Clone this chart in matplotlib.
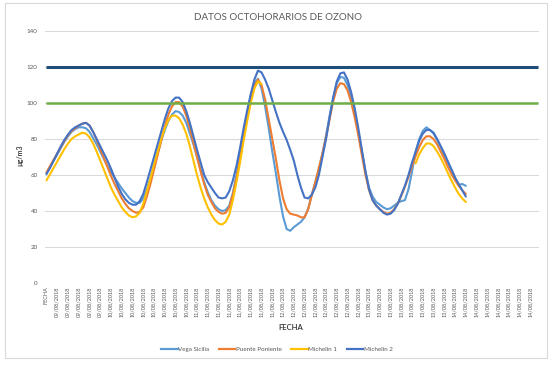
import numpy as np
import matplotlib
matplotlib.use("Agg")
import matplotlib.pyplot as plt
from matplotlib.patches import Rectangle
from matplotlib.lines import Line2D

plt.rcParams['font.family'] = ['Lato', 'DejaVu Sans']

title = "DATOS OCTOHORARIOS DE OZONO"
x_title = "FECHA"
y_title = "µg/m3"
series_names = ["Vega Sicilia", "Puente Poniente", "Michelin 1", "Michelin 2"]
series_colors = ["#5B9BD5", "#ED7D31", "#FFC000", "#4472C4"]

# category axis: one category per hour, a label every 3 categories
n_categories = 138
label_step = 3
tick_labels = (["FECHA"] + ["09/08/2018"] * 5 + ["10/08/2018"] * 8 + ["11/08/2018"] * 8
               + ["12/08/2018"] * 8 + ["13/08/2018"] * 8 + ["14/08/2018"] * 8)

nan = np.nan
vega_sicilia = [
    61, 64.5, 68, 71.5, 75, 78.5, 81.5, 84, 85.5, 86.5, 86.5, 86,
    84, 80.5, 77, 73, 69, 65, 61.5, 58.5, 55.5, 52.5, 50, 47.5,
    45.5, 44.5, 44.5, 47, 52, 58, 65, 72, 79, 85, 90, 93.5,
    95.5, 95, 93, 89, 83, 77, 70, 63, 56, 50.5, 46, 43,
    41, 40, 40.5, 43, 50, 60, 71, 83, 94, 104, 111, 113.5,
    108, 98, 86, 73, 61, 48, 37, 30, 29, 31, 32.5, 34,
    36.5, 41, 49, 56, 63, 72, 82, 93, 103, 111, 114.5, 114,
    110, 103, 95, 84, 73, 62, 53, 48, 45, 43.5, 42, 41,
    41.5, 43, 44.5, 45.5, 46, 52, 62, 73, 80, 84.5, 86.5, 85,
    83, 79.5, 75.5, 71, 67, 63, 58.5, 54.5, 55, 54,
]
puente_poniente = [
    61.5, 65, 68.5, 72, 75.5, 79, 82, 84.5, 86, 87.5, 88.5, 89,
    87.5, 84, 79.5, 74.5, 69.5, 64.5, 59.5, 55, 51, 47, 44, 41.5,
    40, 39, 39.5, 42, 48, 55, 63, 71, 79, 87, 93.5, 98,
    100.5, 100.5, 98, 93, 86, 78, 70, 62, 55, 49, 45, 41.5,
    39.5, 38.5, 39, 42, 49, 58, 69, 81, 92, 102, 109.5, 113,
    110, 102, 91, 80, 69, 57, 47, 41, 38.5, 38, 37.5, 36.5,
    36.5, 41, 48.5, 56, 64, 72, 81, 91, 101, 108, 111, 110.5,
    107, 100.5, 92, 82, 71, 60, 51.5, 46, 43, 41, 39.5, 38.5,
    39, 41, 44, 48.5, 53.5, 59, 65, 70.5, 75.5, 79.5, 81.5, 81.5,
    80, 77, 73, 69, 64.5, 60.5, 57, 54, 51.5, 49.5,
]
michelin_1 = [
    57, 60.5, 64, 67.5, 71, 74.5, 77.5, 80, 81.5, 82.5, 83.5, 83,
    81, 77.5, 73, 68, 63, 58, 53, 49, 45.5, 42, 39.5, 37.5,
    36.5, 37, 39, 44, 51, 58, 66, 73, 80, 86, 90.5, 93,
    93, 91.5, 88, 83, 76, 68, 60, 53, 47, 42, 38, 35,
    33, 32.5, 34, 38, 46, 56, 67, 79, 90, 100, 108, 112,
    110.5, nan, nan, nan, nan, nan, nan, nan, nan, nan, nan, nan,
    nan, nan, nan, nan, nan, nan, nan, nan, nan, nan, nan, nan,
    nan, nan, nan, nan, nan, nan, nan, nan, nan, nan, nan, nan,
    nan, nan, nan, nan, nan, nan, nan, 66.5, 71.5, 75, 77.5, 77.5,
    76, 73, 69.5, 65.5, 61, 57, 53, 49.5, 47, 45,
]
michelin_2 = [
    60.5, 64, 68, 72, 76, 79.5, 82.5, 85, 86.5, 87.5, 88.5, 89,
    87.5, 84, 80, 76, 72, 68, 63.5, 58.5, 53.5, 49.5, 46.5, 44.5,
    43.5, 43.5, 45.5, 49.5, 56, 63, 70, 77, 84, 91, 97, 101,
    103, 103, 100.5, 95.5, 89, 81.5, 74, 67, 60, 56, 53, 50,
    47.5, 47, 47.5, 51, 57, 65, 75, 86, 96, 105, 113, 118,
    117, 113, 108, 101.5, 95, 89, 84, 79.5, 74, 68, 60, 53,
    47.5, 47, 49, 53, 60, 70, 80, 92, 103, 112, 116.5, 117,
    113, 106, 97, 86, 74, 62, 52, 46, 43, 41, 39, 38,
    38.5, 40.5, 44, 49, 54, 60, 67, 73, 79, 83, 85, 85,
    83.5, 80, 76, 72, 67.5, 63, 58.5, 55, 51.5, 48,
]
series_values = [vega_sicilia, puente_poniente, michelin_1, michelin_2]

limit_values = [120, 100]
limit_colors = ["#1F4E79", "#70AD47"]
limit_widths = [2.2, 1.8]

y_ticks = [0, 20, 40, 60, 80, 100, 120, 140]

# ---------------------------------------------------------------------------
W, H = 558, 365
fig = plt.figure(figsize=(W / 100, H / 100), dpi=100)
fig.patch.set_facecolor("white")

ax_left, ax_right, ax_top, ax_bottom = 44.7, 539.3, 31, 283
ax = fig.add_axes([ax_left / W, 1 - ax_bottom / H, (ax_right - ax_left) / W, (ax_bottom - ax_top) / H])

for name, vals, col in zip(series_names, series_values, series_colors):
    x = np.arange(len(vals))
    ax.plot(x, vals, color=col, lw=1.5, solid_capstyle="round", solid_joinstyle="round", zorder=3)

for val, col, lw in zip(limit_values, limit_colors, limit_widths):
    ax.hlines(val, 0, n_categories - 1, colors=col, lw=lw, zorder=4)

ax.set_xlim(-0.5, n_categories - 0.5)
ax.set_ylim(y_ticks[0], y_ticks[-1])
ax.set_yticks(y_ticks)
ax.set_yticklabels([str(t) for t in y_ticks])
ax.set_xticks(np.arange(0, len(tick_labels) * label_step, label_step))
ax.set_xticklabels(tick_labels, rotation=90, fontsize=4, color="#595959")
ax.tick_params(axis="y", length=0, pad=5, labelsize=4.5, labelcolor="#595959")
ax.tick_params(axis="x", length=0, pad=2.5)
ax.grid(axis="y", color="#D9D9D9", lw=0.75)
ax.set_axisbelow(True)
for s in ax.spines.values():
    s.set_visible(False)

fig.text(278 / W, 1 - 17 / H, title, ha="center", va="center", fontsize=7, color="#595959")
fig.text(20 / W, 1 - 155 / H, y_title, ha="center", va="center", rotation=90,
         fontsize=5, fontweight="bold", color="#404040")
fig.text(291 / W, 1 - 328 / H, x_title, ha="center", va="center",
         fontsize=5.5, fontweight="bold", color="#404040")

handles = [Line2D([0], [0], color=c, lw=1.6) for c in series_colors]
fig.legend(handles, series_names, loc="center", bbox_to_anchor=(277 / W, 1 - 349 / H),
           ncol=4, frameon=False, fontsize=4.5, handlelength=2.6, handletextpad=0.15,
           columnspacing=1.5, labelcolor="#595959")

fig.add_artist(Rectangle((5 / W, 1 - 358 / H), (547 - 5) / W, (358 - 3) / H,
                         transform=fig.transFigure, fill=False, edgecolor="#D9D9D9", lw=0.8))

fig.savefig("out.png", dpi=100)
